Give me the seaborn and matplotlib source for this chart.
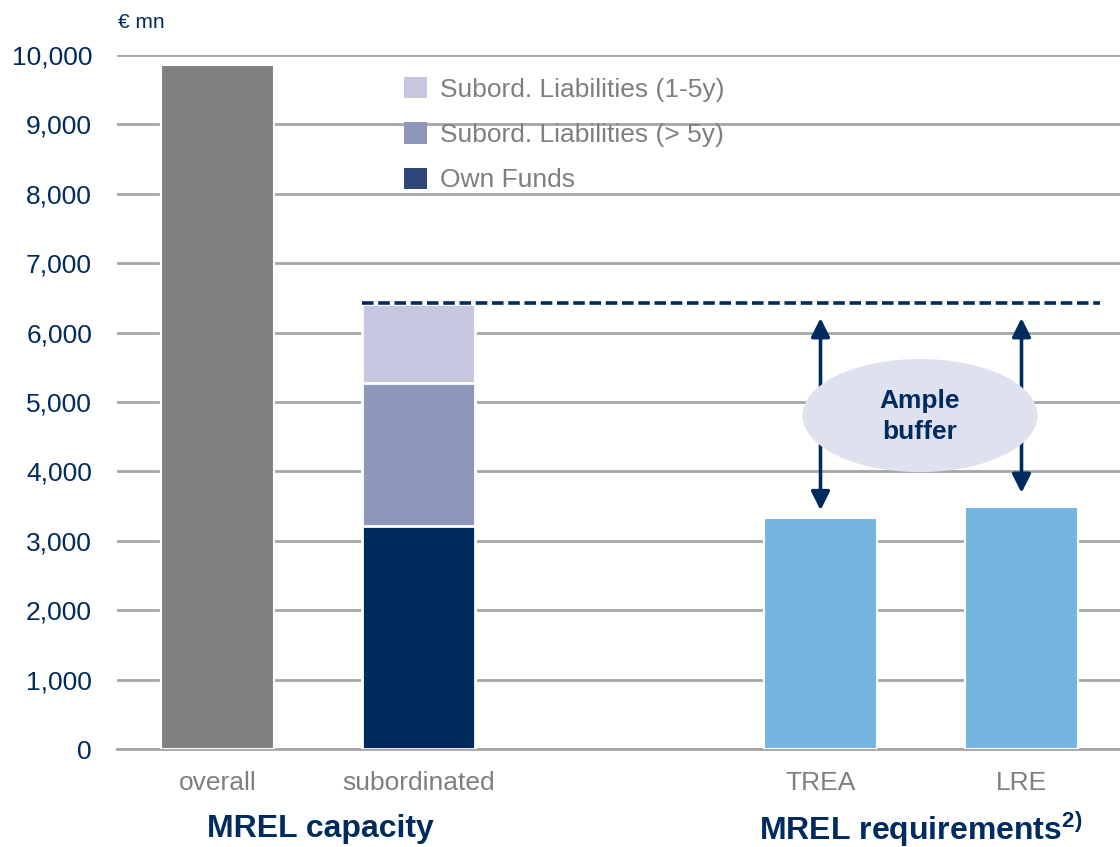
import numpy as np
import pandas as pd
import matplotlib
matplotlib.use("Agg")
import matplotlib.pyplot as plt
from matplotlib.patches import Patch, Ellipse
from matplotlib.ticker import FuncFormatter, FixedLocator
import seaborn as sns

sns.set_style("white")
plt.rcParams['font.family'] = ['Liberation Sans', 'DejaVu Sans']
plt.rcParams['mathtext.fontset'] = 'custom'
plt.rcParams['mathtext.rm'] = 'Liberation Sans'
plt.rcParams['mathtext.bf'] = 'Liberation Sans:bold'

# categories (blank slot separates the two groups)
categories = ["overall", "subordinated", " ", "TREA", "LRE"]

# single bars
single_cats = ["overall", "TREA", "LRE"]
single_vals = [9850, 3330, 3490]

# stacked subordinated bar (bottom -> top)
sub_labels = ["Own Funds", "Subord. Liabilities (> 5y)", "Subord. Liabilities (1-5y)"]
sub_vals = [3210, 2060, 1140]

NAVY = "#002B5E"
GREY_TXT = "#7F7F7F"
GRID = "#A6A6A6"
single_colors = {"overall": "#808080", "TREA": "#73B5E0", "LRE": "#73B5E0"}
sub_colors = ["#002B5E", "#8E96B9", "#C5C8DF"]
legend_colors = ["#C5C8DF", "#8E96B9", "#2F4778"]

fig = plt.figure(figsize=(11.2, 8.47), dpi=100)
ax = fig.add_axes([117 / 1120, 98 / 847, 1005 / 1120, 694 / 847])

df_single = pd.DataFrame({"cat": single_cats, "val": single_vals})
sns.barplot(data=df_single, x="cat", y="val", hue="cat", order=categories,
            palette=single_colors, width=0.56, legend=False, ax=ax,
            saturation=1, edgecolor="white", linewidth=1.5, zorder=3)

# stacked bar: draw cumulative totals from top layer down
cum = np.cumsum(sub_vals)
for total, col in zip(cum[::-1], sub_colors[::-1]):
    d = pd.DataFrame({"cat": ["subordinated"], "val": [total]})
    sns.barplot(data=d, x="cat", y="val", order=categories, color=col,
                width=0.56, ax=ax, saturation=1, edgecolor="white",
                linewidth=2, zorder=3)

ax.set_xlim(-0.5, 4.5)
ax.set_ylim(0, 10000)
ax.set_yticks(np.arange(0, 10001, 1000))
ax.yaxis.set_major_formatter(FuncFormatter(lambda v, p: f"{int(v):,}"))
ax.grid(axis="y", color=GRID, linewidth=2)
ax.set_axisbelow(True)
for s in ["left", "right", "top"]:
    ax.spines[s].set_visible(False)
ax.spines["bottom"].set_color(GRID)
ax.spines["bottom"].set_linewidth(2)
ax.tick_params(axis="y", length=0, labelsize=19, labelcolor=NAVY, pad=18)
ax.tick_params(axis="x", which="major", length=0, labelsize=19,
               labelcolor=GREY_TXT, pad=16)
ax.xaxis.set_minor_locator(FixedLocator(np.arange(-0.5, 5, 1)))
ax.tick_params(axis="x", which="minor", length=9, width=2, color=GRID,
               direction="out")
ax.set_xlabel("")
ax.set_ylabel("")

# total line for subordinated capacity
ax.hlines(cum[-1] + 15, 0.72, 4.39, colors=NAVY, linestyles=(0, (3.2, 1.3)),
          linewidth=2.6, zorder=4)

# buffer arrows
for xa, y_low in [(3.0, 3440), (4.0, 3690)]:
    ax.annotate("", xy=(xa, 6210), xytext=(xa, y_low),
                arrowprops=dict(arrowstyle="<|-|>", color=NAVY, lw=2.6,
                                mutation_scale=28, shrinkA=0, shrinkB=0),
                zorder=4)

ax.add_patch(Ellipse((3.495, 4805), 1.17, 1630, facecolor="#DFE1EE",
                     edgecolor="none", zorder=5))
ax.text(3.495, 4790, "Ample\nbuffer", ha="center", va="center",
        fontsize=19, fontweight="bold", color=NAVY, zorder=6,
        linespacing=1.35)

# unit label
fig.text(118 / 1120, 1 - 22 / 847, "€ mn", fontsize=15, color=NAVY,
         ha="left", va="center")

# group labels
ax.text(0.51, -1150, "MREL capacity", ha="center", va="center",
        fontsize=23, fontweight="bold", color=NAVY, clip_on=False)
ax.text(3.5, -1150, r"MREL requirements$^{\mathbf{2)}}$", ha="center",
        va="center", fontsize=23, fontweight="bold", color=NAVY,
        clip_on=False)

handles = [Patch(facecolor=c, edgecolor="none", label=l)
           for c, l in zip(legend_colors, sub_labels[::-1])]
leg = ax.legend(handles=handles, frameon=False, loc="upper left",
                bbox_to_anchor=(380 / 1120, 1 - 53 / 847),
                bbox_transform=fig.transFigure, fontsize=19,
                labelcolor=GREY_TXT, handlelength=0.87, handleheight=0.87,
                handletextpad=0.5, labelspacing=0.78)

fig.savefig("out.png", dpi=100)
